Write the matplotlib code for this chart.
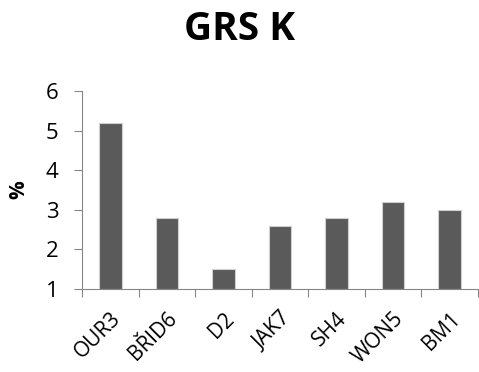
import matplotlib.pyplot as plt
import numpy as np

categories = ['OUR3', 'BŘID6', 'D2', 'JAK7', 'SH4', 'WON5', 'BM1']
values = [5.2, 2.8, 1.5, 2.6, 2.8, 3.2, 3.0]
y_ticks = [1, 2, 3, 4, 5, 6]

plt.rcParams['font.family'] = ['Open Sans', 'DejaVu Sans']

fig = plt.figure(figsize=(4.79, 3.72), dpi=100)
ax = fig.add_axes([82 / 479, 1 - 289 / 372, (478 - 82) / 479, (289 - 91) / 372])

x = np.arange(len(categories))
ax.bar(x, np.array(values) - 1, bottom=1, width=0.4, color='#5a5a5a',
       edgecolor='#d0d0d0', linewidth=0.8)

ax.set_xlim(-0.5, len(categories) - 0.5)
ax.set_ylim(1, 6)
ax.set_yticks(y_ticks)
ax.set_yticklabels([str(t) for t in y_ticks], fontsize=16)

# boundary ticks between categories, labels centred under bars
ax.set_xticks(np.arange(len(categories) + 1) - 0.5, minor=False)
ax.set_xticklabels([])
ax.set_xticks(x, minor=True)
ax.set_xticklabels(categories, minor=True, rotation=45, ha='right',
                   rotation_mode='anchor', fontsize=15)
ax.tick_params(axis='x', which='minor', length=0, pad=14)
ax.tick_params(axis='x', which='major', length=6, color='#868686')
ax.tick_params(axis='y', length=6, color='#868686', pad=11)

for side in ['top', 'right']:
    ax.spines[side].set_visible(False)
for side in ['left', 'bottom']:
    ax.spines[side].set_color('#868686')

ax.set_ylabel('%', fontsize=15, fontweight='bold', labelpad=12)
fig.text(0.5, 1 - 30 / 372, 'GRS K', ha='center', va='center',
         fontsize=28, fontweight='bold')

fig.savefig('out.png', dpi=100)
